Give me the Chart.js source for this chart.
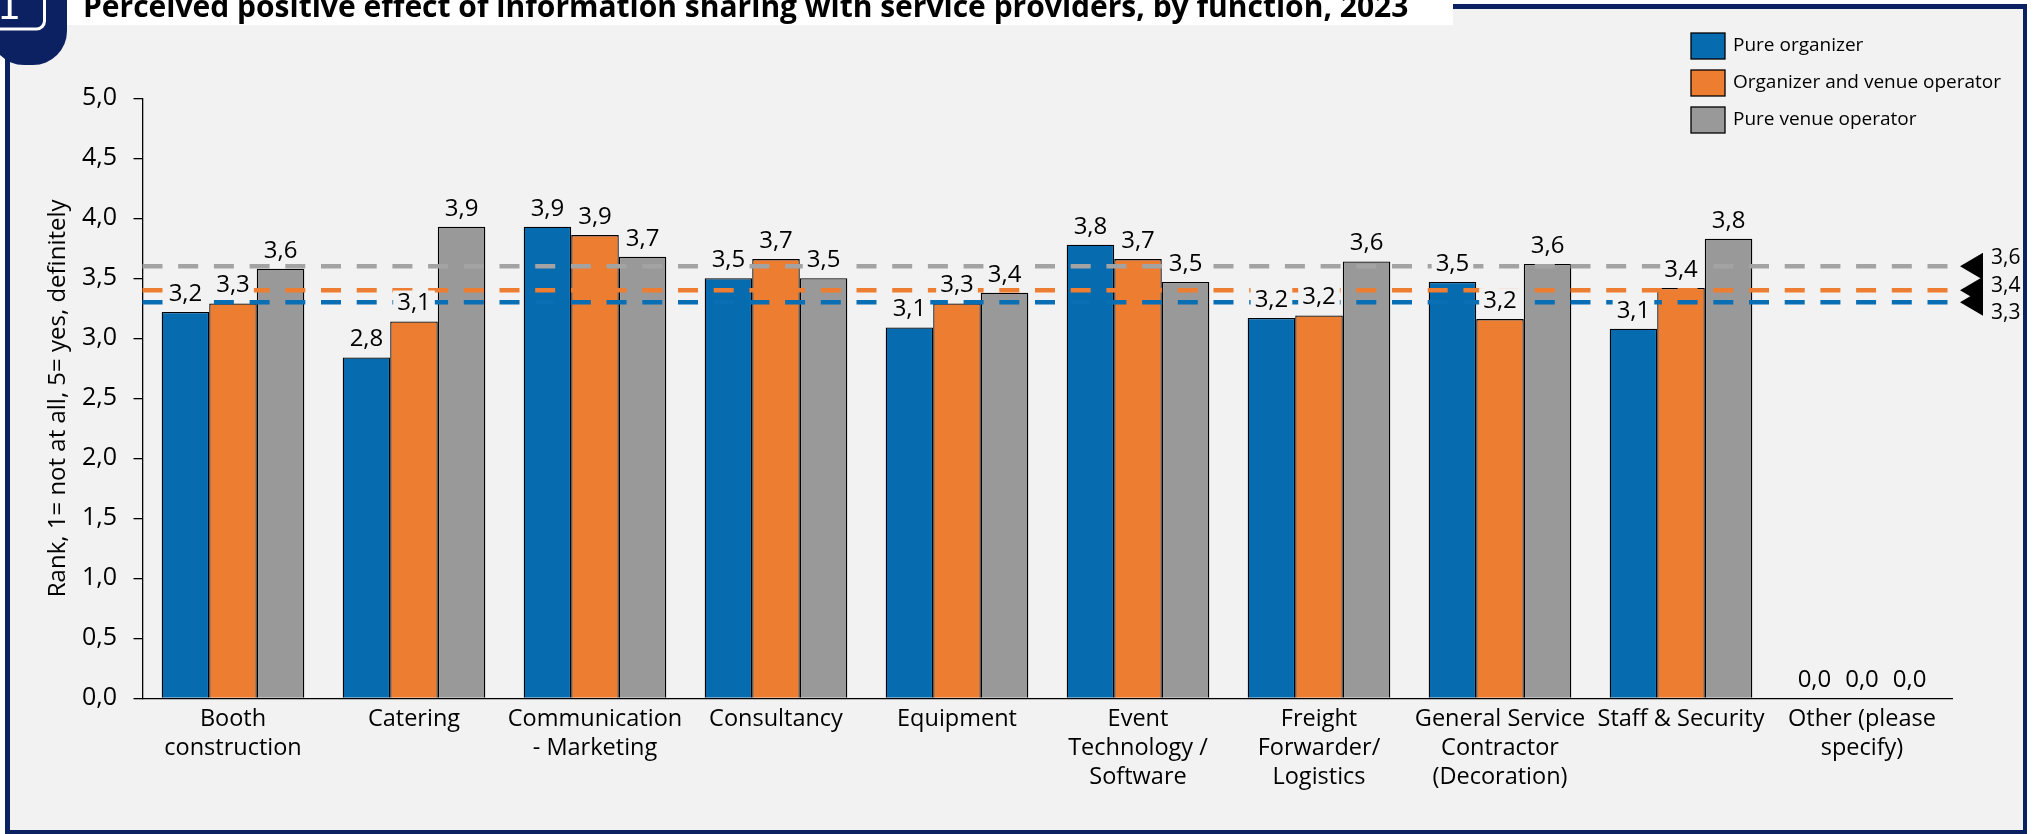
<!DOCTYPE html>
<html>
<head>
<meta charset="utf-8">
<script src="https://cdn.jsdelivr.net/npm/chart.js@4"></script>
<style>
  html, body { margin: 0; padding: 0; background: #fff; }
  canvas { display: block; }
</style>
</head>
<body>
<canvas id="grafic" width="2034" height="834"></canvas>
<script>
const titol = 'Perceived positive effect of information sharing with service providers, by function, 2023';
const categories = [
    ['Booth', 'construction'],
    'Catering',
    ['Communication', '- Marketing'],
    'Consultancy',
    'Equipment',
    ['Event', 'Technology /', 'Software'],
    ['Freight', 'Forwarder/', 'Logistics'],
    ['General Service', 'Contractor', '(Decoration)'],
    'Staff & Security',
    ['Other (please', 'specify)']
];
const series = ['Pure organizer', 'Organizer and venue operator', 'Pure venue operator'];
const pureOrganizer = [3.22, 2.84, 3.93, 3.50, 3.09, 3.78, 3.17, 3.47, 3.08, 0];
const organizerVenue = [3.29, 3.14, 3.86, 3.66, 3.29, 3.66, 3.19, 3.16, 3.42, 0];
const pureVenue = [3.58, 3.93, 3.68, 3.50, 3.38, 3.47, 3.64, 3.62, 3.83, 0];
const mitjanes = [3.3, 3.4, 3.6];
const yMin = 0, yMax = 5, yStep = 0.5;
const yTitol = 'Rank, 1= not at all, 5= yes, definitely';

const colors = ['#076BB0', '#ED7D31', '#999999'];
const colorsMitjana = ['#0A6EB4', '#ED7D31', '#A3A3A3'];
const NAVY = '#0B2161';
const FONS = '#F2F2F2';

const fmt = v => v.toFixed(1).replace('.', ',');

Chart.defaults.font.family = "'Open Sans', sans-serif";
Chart.defaults.color = '#000';

const marc = {
    id: 'marc',
    beforeDraw(chart) {
        const ctx = chart.ctx;
        ctx.save();
        ctx.fillStyle = '#fff';
        ctx.fillRect(0, 0, 2034, 834);
        ctx.fillStyle = FONS;
        ctx.fillRect(7, 6, 2018, 826);
        ctx.fillStyle = '#fff';
        ctx.fillRect(60, 0, 1393, 25);

        ctx.fillStyle = NAVY;
        ctx.fillRect(5, 30, 5, 804);
        ctx.fillRect(5, 830, 2022, 4);
        ctx.fillRect(2023, 4, 4, 830);
        ctx.fillRect(1453, 4, 574, 5);

        ctx.beginPath();
        ctx.roundRect(-10, -40, 77, 105, 34);
        ctx.fill();
        ctx.strokeStyle = '#fff';
        ctx.lineWidth = 3;
        ctx.beginPath();
        ctx.roundRect(-30, -30, 74.5, 59, 8);
        ctx.stroke();
        ctx.fillStyle = '#fff';
        ctx.font = "38px 'DejaVu Sans'";
        ctx.textAlign = 'center';
        ctx.textBaseline = 'alphabetic';
        ctx.fillText('1', 9, 18.5);

        ctx.fillStyle = '#000';
        ctx.font = "bold 30px 'Open Sans'";
        ctx.textAlign = 'left';
        ctx.fillText(titol, 83, 17);
        ctx.restore();
    }
};

const mitjana = {
    id: 'mitjana',
    afterDatasetsDraw(chart) {
        const ctx = chart.ctx;
        const y = chart.scales.y;
        const area = chart.chartArea;
        ctx.save();

        // linies de mitjana, per sobre de les barres
        ctx.lineWidth = 4.5;
        ctx.setLineDash([20, 15.7]);
        mitjanes.forEach((m, i) => {
            const py = y.getPixelForValue(m);
            ctx.strokeStyle = colorsMitjana[i];
            ctx.beginPath();
            ctx.moveTo(area.left, py);
            ctx.lineTo(area.right, py);
            ctx.stroke();
        });
        ctx.setLineDash([]);

        // etiquetes de valor
        ctx.font = "24px 'Open Sans'";
        ctx.textAlign = 'center';
        ctx.textBaseline = 'middle';
        chart.data.datasets.forEach((ds, i) => {
            chart.getDatasetMeta(i).data.forEach((bar, j) => {
                const txt = fmt(ds.data[j]);
                const ty = bar.y - 18;
                const w = ctx.measureText(txt).width + 8;
                ctx.fillStyle = FONS;
                ctx.fillRect(bar.x - w / 2, ty - 13, w, 26);
                ctx.fillStyle = '#000';
                ctx.fillText(txt, bar.x, ty);
            });
        });

        // marcadors a la dreta
        const desplacament = [11, -4, -8];
        mitjanes.forEach(m => {
            const py = y.getPixelForValue(m);
            ctx.fillStyle = '#000';
            ctx.beginPath();
            ctx.moveTo(1960, py);
            ctx.lineTo(1983, py - 13.5);
            ctx.lineTo(1983, py + 13.5);
            ctx.closePath();
            ctx.fill();
        });
        ctx.font = "21px 'Open Sans'";
        ctx.textAlign = 'left';
        mitjanes.forEach((m, i) => {
            ctx.fillText(fmt(m), 1991, y.getPixelForValue(m) + desplacament[i]);
        });
        ctx.restore();
    }
};

const llegenda = {
    id: 'llegenda',
    afterDraw(chart) {
        const ctx = chart.ctx;
        ctx.save();
        ctx.font = "19px 'Open Sans'";
        ctx.textBaseline = 'middle';
        ctx.textAlign = 'left';
        series.forEach((nom, i) => {
            const top = 33 + i * 37;
            ctx.fillStyle = colors[i];
            ctx.fillRect(1691, top, 34, 26);
            ctx.strokeStyle = '#000';
            ctx.lineWidth = 1.3;
            ctx.strokeRect(1691, top, 34, 26);
            ctx.fillStyle = '#000';
            ctx.fillText(nom, 1733, top + 13);
        });
        ctx.restore();
    }
};

new Chart(document.getElementById('grafic'), {
    type: 'bar',
    data: {
        labels: categories,
        datasets: [pureOrganizer, organizerVenue, pureVenue].map((d, i) => ({
            label: series[i],
            data: d,
            backgroundColor: colors[i],
            borderColor: '#000',
            borderWidth: 1.3,
            categoryPercentage: 0.788,
            barPercentage: 1.0
        }))
    },
    options: {
        responsive: false,
        animation: false,
        devicePixelRatio: 1,
        layout: { padding: { top: 98.3, right: 81.5, bottom: 0, left: 0 } },
        plugins: {
            legend: { display: false },
            tooltip: { enabled: false },
            title: { display: false }
        },
        scales: {
            x: {
                grid: { display: false, drawTicks: false },
                border: { color: '#000', width: 1.3 },
                ticks: {
                    autoSkip: false,
                    maxRotation: 0,
                    padding: 7,
                    font: { size: 23.5, lineHeight: 1.234 }
                },
                afterFit: s => { s.height = 135.7; }
            },
            y: {
                min: yMin,
                max: yMax,
                grid: { drawOnChartArea: false, drawTicks: true, tickLength: 9, color: '#000', lineWidth: 1.3 },
                border: { color: '#000', width: 1.3 },
                ticks: {
                    stepSize: yStep,
                    padding: 16.5,
                    font: { size: 25 },
                    callback: v => fmt(v)
                },
                title: {
                    display: true,
                    text: yTitol,
                    font: { size: 24 },
                    padding: { top: 44, bottom: 0 }
                },
                afterFit: s => { s.width = 142.5; }
            }
        }
    },
    plugins: [marc, mitjana, llegenda]
});
</script>
</body>
</html>
